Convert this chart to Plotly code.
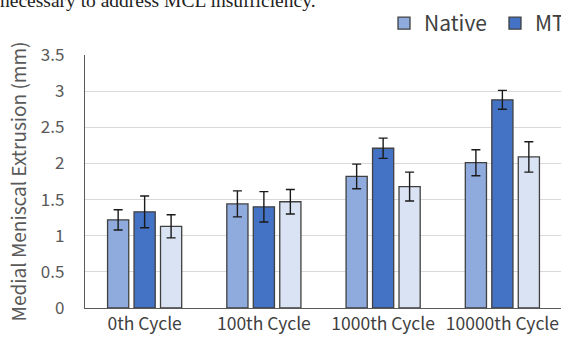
import plotly.graph_objects as go

categories = ["0th Cycle", "100th Cycle", "1000th Cycle", "10000th Cycle"]
series_names = ["Native", "MT", "MT Repair"]
native_vals = [1.22, 1.44, 1.82, 2.01]
native_err = [0.14, 0.18, 0.17, 0.18]
mt_vals = [1.33, 1.40, 2.21, 2.88]
mt_err = [0.22, 0.21, 0.14, 0.13]
third_vals = [1.13, 1.47, 1.68, 2.09]
third_err = [0.16, 0.17, 0.20, 0.21]
colors = ["#8FAADC", "#4472C4", "#DAE3F3"]
y_ticks = [0, 0.5, 1, 1.5, 2, 2.5, 3, 3.5]
y_tick_text = ["0", "0.5", "1", "1.5", "2", "2.5", "3", "3.5"]

FONT = "Noto Sans CJK JP, Noto Sans, sans-serif"

fig = go.Figure()
for name, vals, errs, col in zip(series_names,
                                 [native_vals, mt_vals, third_vals],
                                 [native_err, mt_err, third_err],
                                 colors):
    fig.add_trace(go.Bar(
        x=categories, y=vals, name=name,
        marker=dict(color=col, line=dict(color="#404040", width=1.3)),
        error_y=dict(type="data", array=errs, visible=True,
                     color="#1a1a1a", thickness=1.4, width=4.5),
    ))

W = 740
L, R, T, B = 85, 562, 55, 308
PW, PH = R - L, B - T
fig.update_layout(
    width=W, height=341,
    margin=dict(l=L, r=W - R, t=T, b=341 - B, autoexpand=False),
    paper_bgcolor="white", plot_bgcolor="white",
    barmode="group", bargap=0.334, bargroupgap=0.2,
    font=dict(family=FONT, color="#595959"),
    showlegend=True,
    legend=dict(orientation="h", x=(384 - L) / PW, xanchor="left",
                y=1 + (T - 3) / PH, yanchor="top", bgcolor="rgba(0,0,0,0)",
                font=dict(size=21, color="#404040", family=FONT),
                entrywidth=66, entrywidthmode="pixels",
                traceorder="normal"),
    xaxis=dict(showgrid=False, showline=True, linecolor="#595959",
               linewidth=1.3, ticks="", tickfont=dict(size=17.5, color="#404040"),
               fixedrange=True),
    yaxis=dict(range=[0, 3.5], tickvals=y_ticks, ticktext=y_tick_text,
               showgrid=True, gridcolor="#D9D9D9", gridwidth=1,
               showline=True, linecolor="#595959", linewidth=1.3,
               zeroline=False, ticks="", ticklabelstandoff=16,
               tickfont=dict(size=17, color="#595959"),
               title=dict(text="Medial Meniscal Extrusion (mm)", standoff=9,
                          font=dict(size=19, color="#595959")),
               fixedrange=True),
)

fig.add_annotation(text="necessary to address MCL insufficiency.",
                   xref="paper", yref="paper", x=(-2 - L) / PW, xanchor="left",
                   y=1 + (T - 13) / PH, yanchor="bottom", showarrow=False,
                   font=dict(family="Liberation Serif, serif", size=19.5, color="#222222"))

fig.write_html("out.html",
               post_script="document.body.style.margin='0';document.body.style.overflow='hidden';document.documentElement.style.overflow='hidden';")
